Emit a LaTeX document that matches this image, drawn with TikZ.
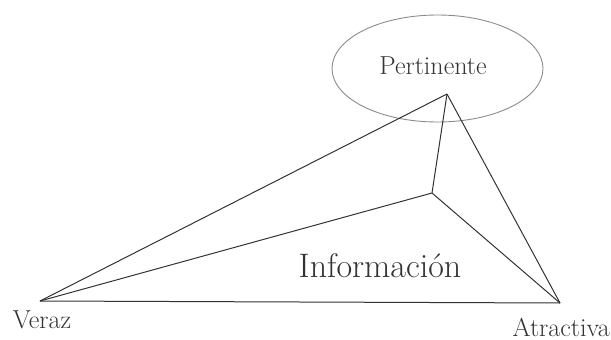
\documentclass[tikz,border=0pt]{standalone}
\begin{document}
\begin{tikzpicture}[x=1pt,y=-1pt,
  edge/.style={draw=black!80,line width=1pt},
  lbl/.style={inner sep=0pt,anchor=base,text=black!80,font=\fontsize{26}{30}\selectfont},
  big/.style={inner sep=0pt,anchor=base,text=black!80,font=\fontsize{34}{38}\selectfont},
  oval/.style={draw=black!45,line width=0.9pt}]
\useasboundingbox (0,0) rectangle (611,340);
\draw[oval] (437.5,68.5) ellipse [x radius=105.5, y radius=53.5];
\coordinate (V) at (40,301);
\coordinate (A) at (560,303);
\coordinate (T) at (447,94);
\coordinate (I) at (432,193);
\draw[edge] (V) -- (T);
\draw[edge] (V) -- (I);
\draw[edge] (V) -- (A);
\draw[edge] (I) -- (T);
\draw[edge] (I) -- (A);
\draw[edge] (T) -- (A);
\node[lbl] (pert) at (433,74) {Pertinente};
\node[lbl] (ver) at (42,328) {Veraz};
\node[lbl,anchor=base east] (atr) at (610,336) {Atractiva};
\node[big] (inf) at (380,277) {Información};
\end{tikzpicture}
\end{document}
